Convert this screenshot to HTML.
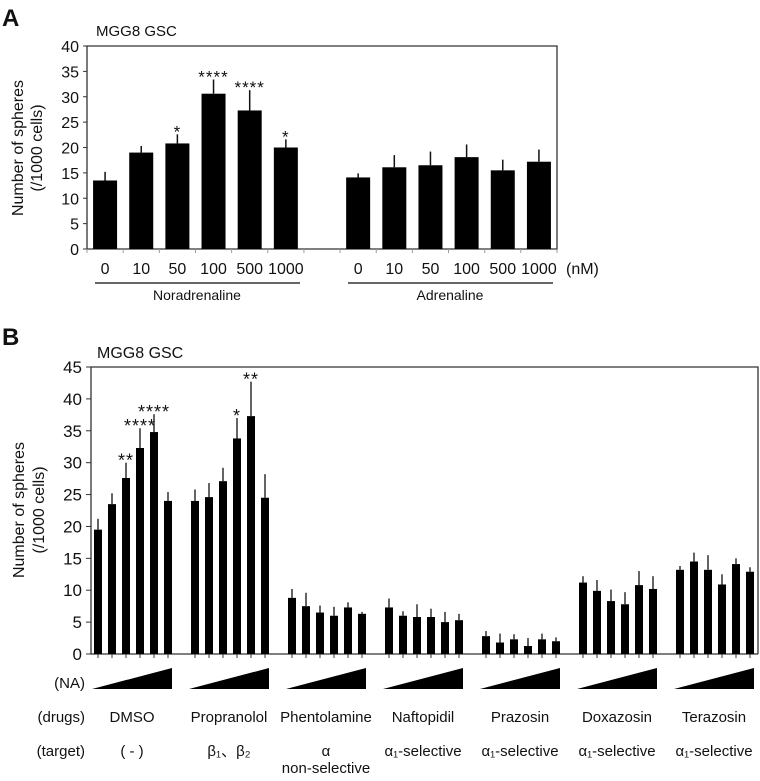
<!DOCTYPE html>
<html><head><meta charset="utf-8"><style>
body{margin:0;background:#fff}
svg text{font-family:"Liberation Sans",Arial,sans-serif;fill:#111}
</style></head><body>
<svg id="fig" width="760" height="776" viewBox="0 0 760 776" xmlns="http://www.w3.org/2000/svg">
<text x="2" y="26" font-size="24" font-weight="bold">A</text>
<text x="96" y="36" font-size="15">MGG8 GSC</text>
<text x="2" y="345" font-size="24" font-weight="bold">B</text>
<text x="97" y="358" font-size="16">MGG8 GSC</text>
<g id="ga"></g>
<g id="gb"></g>
</svg>
<script>
const aDoses=["0","10","50","100","500","1000"];
const aNor=[13.5,19,20.8,30.6,27.3,20];
const aNorErr=[1.7,1.3,1.8,2.8,4.0,1.6];
const aAdr=[14.1,16.1,16.5,18.1,15.5,17.2];
const aAdrErr=[0.8,2.4,2.7,2.5,2.1,2.4];
const aNorStars=["","","*","****","****","*"];
const aTicks=[0,5,10,15,20,25,30,35,40];

const bDrugs=["DMSO","Propranolol","Phentolamine","Naftopidil","Prazosin","Doxazosin","Terazosin"];
const bTargets=["( - )","β₁、β₂","α","α₁-selective","α₁-selective","α₁-selective","α₁-selective"];
const bVals=[[19.5,23.5,27.6,32.3,34.8,24.0],[24,24.6,27.1,33.8,37.3,24.5],[8.8,7.5,6.5,6,7.3,6.3],[7.3,6.0,5.8,5.8,5.0,5.3],[2.8,1.8,2.3,1.25,2.3,2.0],[11.2,9.9,8.3,7.8,10.8,10.2],[13.2,14.5,13.2,10.9,14.1,12.9]];
const bErr=[[1.7,1.7,2.4,3.1,2.8,1.4],[1.8,2.2,2.1,3.2,5.4,3.7],[1.4,2.1,1.1,1.4,0.8,0.3],[1.4,0.7,2.0,1.3,1.6,1.0],[0.8,1.4,0.8,1.25,0.9,0.6],[1.0,1.7,1.8,1.9,2.2,2.0],[0.6,1.4,2.3,1.6,0.9,0.7]];
const bStars=[["","","**","****","****",""],["","","","*","**",""],[],[],[],[],[]];
const bTicks=[0,5,10,15,20,25,30,35,40,45];

const NS="http://www.w3.org/2000/svg";
function mk(p,t,at,txt){const e=document.createElementNS(NS,t);for(const k in at)e.setAttribute(k,at[k]);if(txt!==undefined)e.textContent=txt;p.appendChild(e);return e;}

// Panel A
const ga=document.getElementById('ga');
const aL=87,aR=557,aT=46,aB=249,aMax=40,slot=(aR-aL)/13;
const ay=v=>aB-(aB-aT)*v/aMax;
const ax=i=>aL+slot*(i+0.5);
let e;
e=mk(ga,'path',{d:`M${aL},${aT}H${aR}V${aB}H${aL}Z`,fill:'none',stroke:'#333','stroke-width':1.3});

aTicks.forEach(t=>{mk(ga,'line',{x1:aL-4,x2:aL,y1:ay(t),y2:ay(t),stroke:'#333'});
e=mk(ga,'text',{x:aL-8,y:ay(t)+6,'font-size':16,'text-anchor':'end'},t);
});
for(let i=0;i<=13;i++)mk(ga,'line',{x1:aL+slot*i,x2:aL+slot*i,y1:aB,y2:aB+4,stroke:'#999'});
e=mk(ga,'text',{transform:`translate(23,148) rotate(-90)`,'font-size':16,'text-anchor':'middle'},'Number of spheres');

e=mk(ga,'text',{transform:`translate(42,148) rotate(-90)`,'font-size':16,'text-anchor':'middle'},'(/1000 cells)');

function aBar(i,v,er,st){const x=ax(i);
mk(ga,'line',{x1:x,x2:x,y1:ay(v),y2:ay(v+er),stroke:'#111','stroke-width':1.5});
e=mk(ga,'rect',{x:x-12,y:ay(v),width:24,height:aB-ay(v),fill:'#000'});

if(st){e=mk(ga,'text',{x:x,y:ay(v+er)+3,'font-size':17,'text-anchor':'middle','letter-spacing':'1'},st);
}}
aDoses.forEach((d,i)=>{aBar(i,aNor[i],aNorErr[i],aNorStars[i]);aBar(i+7,aAdr[i],aAdrErr[i],'');
e=mk(ga,'text',{x:ax(i),y:274,'font-size':16,'text-anchor':'middle'},d);
e=mk(ga,'text',{x:ax(i+7),y:274,'font-size':16,'text-anchor':'middle'},d);});
e=mk(ga,'text',{x:566,y:274,'font-size':16},'(nM)');
mk(ga,'line',{x1:95,x2:300,y1:283,y2:283,stroke:'#333','stroke-width':1.5});
mk(ga,'line',{x1:348,x2:553,y1:283,y2:283,stroke:'#333','stroke-width':1.5});
e=mk(ga,'text',{x:197,y:300,'font-size':14,'text-anchor':'middle'},'Noradrenaline');
e=mk(ga,'text',{x:450,y:300,'font-size':14,'text-anchor':'middle'},'Adrenaline');

// Panel B
const gb=document.getElementById('gb');
const bL=91,bR=758,bT=367,bB=654,bMax=45,gStep=97,bStep=14,bW=8,bX0=94;
const by=v=>bB-(bB-bT)*v/bMax;
const bx=(g,i)=>bX0+g*gStep+i*bStep;
mk(gb,'path',{d:`M${bL},${bB}V${bT}H${bR}V${bB}`,fill:'none',stroke:'#333','stroke-width':1.3});
mk(gb,'line',{x1:bL,x2:bR,y1:bB,y2:bB,stroke:'#333','stroke-width':1.3});
bTicks.forEach(t=>{mk(gb,'line',{x1:bL-5,x2:bL,y1:by(t),y2:by(t),stroke:'#333'});
e=mk(gb,'text',{x:bL-9,y:by(t)+6,'font-size':17,'text-anchor':'end'},t);
});
e=mk(gb,'text',{transform:`translate(24,510) rotate(-90)`,'font-size':16,'text-anchor':'middle'},'Number of spheres');

e=mk(gb,'text',{transform:`translate(44,510) rotate(-90)`,'font-size':16,'text-anchor':'middle'},'(/1000 cells)');

e=mk(gb,'text',{x:85,y:688,'font-size':15,'text-anchor':'end'},'(NA)');
e=mk(gb,'text',{x:85,y:722,'font-size':15,'text-anchor':'end'},'(drugs)');
e=mk(gb,'text',{x:85,y:756,'font-size':15,'text-anchor':'end'},'(target)');
bDrugs.forEach((d,g)=>{
 bVals[g].forEach((v,i)=>{const x=bx(g,i),er=bErr[g][i];
  mk(gb,'line',{x1:x+bW/2,x2:x+bW/2,y1:by(v),y2:by(v+er),stroke:'#111','stroke-width':1.3});
  e=mk(gb,'rect',{x:x,y:by(v),width:bW,height:bB-by(v),fill:'#000'});
  
  mk(gb,'line',{x1:x+bW/2,x2:x+bW/2,y1:bB,y2:bB+4,stroke:'#333'});
  const st=(bStars[g]||[])[i];
  if(st){e=mk(gb,'text',{x:x+bW/2,y:by(v+er)+4,'font-size':18,'text-anchor':'middle','letter-spacing':'1'},st);
   }
 });
 const x0=bx(g,0)-2,x1=bx(g,5)+bW,cx=(x0+x1)/2;
 e=mk(gb,'path',{d:`M${x0},689L${x1},668V689Z`,fill:'#000'});
 
 e=mk(gb,'text',{x:cx,y:722,'font-size':15,'text-anchor':'middle'},d);
 
 e=mk(gb,'text',{x:cx,y:756,'font-size':15,'text-anchor':'middle'},bTargets[g]);
 
 if(g===2){e=mk(gb,'text',{x:cx,y:773,'font-size':15,'text-anchor':'middle'},'non-selective');
  }
});
</script>
</body></html>
